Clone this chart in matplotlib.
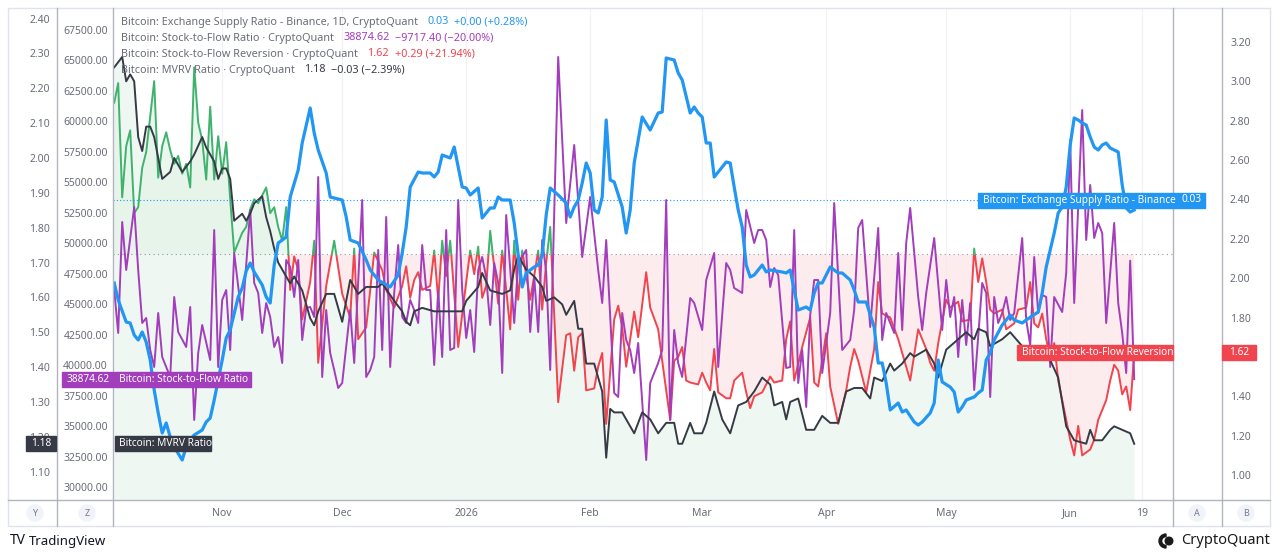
import datetime as dt

import matplotlib
matplotlib.use("Agg")
import matplotlib.pyplot as plt
import matplotlib.dates as mdates
import matplotlib.transforms as mtransforms
from matplotlib.patches import Rectangle, Circle, Wedge
from matplotlib.ticker import FormatStrFormatter
import numpy as np

W, H = 1280, 558
START = dt.date(2025, 10, 5)

# (days after START, value)
supply_ratio = [
    (0, 0.02834), (1, 0.02800), (3, 0.02756), (4, 0.02754), (5, 0.02730), (6, 0.02720), (7, 0.02736),
    (8, 0.02716), (9, 0.02680), (10, 0.02620), (11, 0.02574), (12, 0.02534), (13, 0.02554), (14, 0.02526),
    (15, 0.02506), (17, 0.02480), (18, 0.02506), (19, 0.02520), (20, 0.02530), (22, 0.02540), (23, 0.02556),
    (24, 0.02564), (25, 0.02600), (27, 0.02680), (28, 0.02724), (29, 0.02740), (31, 0.02806), (32, 0.02824),
    (33, 0.02858), (34, 0.02874), (35, 0.02856), (37, 0.02830), (38, 0.02806), (39, 0.02794), (40, 0.02870),
    (41, 0.02914), (43, 0.02926), (44, 0.03006), (46, 0.03060), (47, 0.03114), (49, 0.03184), (50, 0.03134),
    (51, 0.03100), (53, 0.03054), (54, 0.03006), (57, 0.03000), (58, 0.02966), (59, 0.02920), (61, 0.02914),
    (63, 0.02880), (64, 0.02860), (66, 0.02840), (69, 0.02826), (71, 0.02850), (72, 0.02894), (73, 0.02946),
    (74, 0.03026), (76, 0.03056), (77, 0.03054), (79, 0.03054), (80, 0.03046), (81, 0.03056), (82, 0.03090),
    (84, 0.03084), (85, 0.03106), (87, 0.03026), (88, 0.03024), (89, 0.03010), (91, 0.03024), (92, 0.02964),
    (94, 0.02984), (95, 0.02984), (96, 0.03006), (97, 0.03000), (99, 0.03000), (100, 0.02954), (101, 0.02890),
    (102, 0.02826), (103, 0.02854), (105, 0.02866), (106, 0.02870), (107, 0.02890), (108, 0.02970),
    (109, 0.03024), (111, 0.03010), (113, 0.02994), (114, 0.02966), (115, 0.02986), (116, 0.03000),
    (117, 0.03034), (118, 0.03074), (119, 0.03054), (120, 0.02980), (121, 0.02974), (122, 0.03006),
    (123, 0.03160), (124, 0.03040), (125, 0.03036), (127, 0.02986), (128, 0.02934), (129, 0.02980),
    (130, 0.03074), (132, 0.03166), (134, 0.03140), (136, 0.03174), (137, 0.03176), (138, 0.03284),
    (140, 0.03280), (141, 0.03254), (142, 0.03240), (144, 0.03174), (145, 0.03186), (146, 0.03174),
    (147, 0.03166), (148, 0.03114), (149, 0.03114), (150, 0.03046), (151, 0.03056), (153, 0.03076),
    (154, 0.03074), (155, 0.03026), (156, 0.02980), (157, 0.02946), (158, 0.02870), (159, 0.02846),
    (160, 0.02850), (162, 0.02870), (163, 0.02856), (164, 0.02860), (167, 0.02856), (168, 0.02854),
    (169, 0.02860), (170, 0.02820), (171, 0.02780), (173, 0.02786), (174, 0.02780), (175, 0.02814),
    (176, 0.02834), (177, 0.02834), (178, 0.02850), (179, 0.02866), (181, 0.02854), (182, 0.02854),
    (184, 0.02840), (185, 0.02820), (186, 0.02796), (188, 0.02796), (190, 0.02746), (191, 0.02674),
    (192, 0.02674), (193, 0.02634), (194, 0.02580), (196, 0.02594), (197, 0.02576), (198, 0.02580),
    (200, 0.02556), (201, 0.02550), (202, 0.02556), (204, 0.02574), (205, 0.02594), (206, 0.02680),
    (207, 0.02636), (209, 0.02626), (210, 0.02616), (211, 0.02576), (212, 0.02586), (213, 0.02600),
    (215, 0.02606), (216, 0.02614), (217, 0.02620), (218, 0.02680), (219, 0.02694), (220, 0.02720),
    (222, 0.02750), (224, 0.02770), (225, 0.02760), (227, 0.02754), (228, 0.02760), (231, 0.02776),
    (232, 0.02814), (233, 0.02866), (235, 0.02934), (236, 0.02974), (237, 0.02986), (238, 0.03026),
    (239, 0.03110), (240, 0.03164), (241, 0.03160), (242, 0.03154), (243, 0.03150), (244, 0.03126),
    (245, 0.03106), (246, 0.03100), (247, 0.03110), (248, 0.03114), (249, 0.03104), (250, 0.03100),
    (251, 0.03096), (252, 0.03030), (253, 0.02984), (254, 0.02976), (255, 0.02980),
]

s2f_ratio = [
    (0, 46188), (1, 42663), (2, 51762), (3, 47827), (5, 52991), (6, 47827), (7, 43483), (8, 43892),
    (9, 41270), (10, 39876), (11, 44302), (12, 40696), (14, 39056), (15, 45614), (16, 42745), (18, 41516),
    (19, 44794), (20, 35532), (21, 41024), (22, 43319), (24, 40450), (25, 51106), (26, 39876), (27, 45368),
    (28, 46188), (29, 41270), (30, 49221), (32, 43729), (34, 52745), (35, 46761), (36, 45942), (37, 42663),
    (38, 45122), (39, 43974), (40, 41516), (41, 42335), (42, 40204), (43, 48647), (44, 48073), (45, 45614),
    (46, 48647), (47, 42089), (48, 44712), (49, 44794), (50, 43974), (51, 55450), (52, 39056), (53, 44548),
    (54, 41024), (55, 39630), (56, 38155), (57, 38565), (59, 44548), (60, 40204), (62, 53565), (63, 39056),
    (64, 39630), (65, 40696), (66, 49466), (67, 41270), (68, 52172), (69, 39876), (70, 45942), (71, 49876),
    (72, 43974), (73, 43483), (74, 45368), (75, 44548), (76, 43483), (77, 49876), (78, 46188), (79, 46188),
    (80, 40040), (81, 46188), (82, 40696), (83, 51106), (84, 41270), (85, 41434), (86, 53565), (87, 46188),
    (88, 42253), (89, 44548), (90, 41106), (91, 47827), (92, 48893), (93, 47253), (94, 43319), (95, 48401),
    (96, 46761), (97, 39384), (98, 52335), (100, 43483), (101, 48401), (103, 49466), (104, 42745),
    (105, 47253), (106, 42745), (107, 50286), (108, 47663), (109, 39630), (111, 65287), (113, 51680),
    (115, 58073), (117, 48893), (119, 53811), (121, 47827), (122, 45122), (123, 50286), (124, 43974),
    (125, 37745), (126, 37417), (127, 44302), (128, 42089), (129, 41270), (130, 39384), (131, 41843),
    (133, 32253), (134, 38565), (136, 40204), (137, 41270), (138, 53565), (139, 35532), (140, 42909),
    (141, 40204), (142, 39056), (144, 45532), (145, 45122), (147, 42909), (148, 47007), (150, 49221),
    (151, 39876), (153, 48401), (154, 47827), (155, 46352), (157, 45942), (158, 52745), (160, 50040),
    (161, 51106), (162, 51106), (163, 50286), (164, 46434), (165, 47991), (166, 47417), (168, 39794),
    (169, 39876), (170, 51106), (171, 38565), (172, 41270), (173, 36597), (174, 44138), (175, 47007),
    (176, 47007), (177, 39384), (179, 44302), (180, 53319), (182, 41270), (184, 42089), (185, 44548),
    (186, 51270), (187, 51926), (189, 43155), (191, 51270), (192, 42089), (193, 44302), (195, 42663),
    (196, 49221), (197, 42909), (198, 50040), (199, 52909), (201, 45614), (202, 42909), (203, 45942),
    (205, 50450), (207, 42909), (208, 47007), (209, 43974), (210, 45614), (211, 40696), (212, 45368),
    (213, 41679), (214, 45122), (215, 37991), (217, 46761), (218, 45942), (219, 37417), (220, 45614),
    (221, 43483), (222, 44302), (223, 45614), (224, 43729), (225, 44302), (227, 50450), (228, 43729),
    (229, 41679), (230, 48893), (231, 44302), (232, 45778), (233, 45614), (234, 39876), (235, 45614),
    (237, 44384), (238, 47581), (239, 58483), (240, 45122), (242, 60942), (243, 50286), (244, 54795),
    (245, 50450), (246, 51680), (247, 50860), (248, 43483), (250, 51680), (251, 45122), (252, 42663),
    (253, 39384), (254, 48592.02), (255, 38874.62),
]

s2f_reversion = [
    (0, 2.89), (1, 2.99), (2, 2.41), (3, 2.67), (4, 2.75), (5, 2.33), (6, 2.36), (7, 2.56), (8, 2.64),
    (10, 3.00), (11, 2.51), (12, 2.67), (13, 2.74), (14, 2.65), (15, 2.58), (16, 2.62), (17, 2.53),
    (18, 2.58), (19, 2.46), (20, 3.07), (21, 2.79), (22, 2.70), (23, 2.50), (24, 2.87), (25, 2.50),
    (26, 2.72), (27, 2.53), (28, 2.69), (29, 2.40), (30, 2.13), (32, 2.23), (33, 2.26), (34, 2.35),
    (35, 2.40), (36, 2.38), (38, 2.46), (39, 2.33), (40, 2.36), (41, 2.26), (42, 2.19), (43, 2.36),
    (44, 1.94), (45, 2.11), (46, 2.04), (47, 1.79), (49, 1.98), (50, 2.19), (51, 1.57), (53, 1.96),
    (55, 2.19), (57, 1.92), (59, 1.80), (60, 2.15), (61, 1.69), (63, 1.75), (65, 2.13), (67, 2.04),
    (68, 1.94), (70, 1.85), (72, 1.96), (73, 2.06), (74, 1.90), (75, 1.99), (76, 2.03), (77, 1.94),
    (79, 1.96), (80, 2.14), (81, 1.89), (82, 2.19), (83, 2.01), (84, 2.19), (86, 1.65), (88, 1.98),
    (89, 2.14), (90, 2.02), (91, 2.16), (92, 1.90), (93, 1.96), (94, 2.24), (96, 1.87), (97, 2.14),
    (99, 1.74), (100, 2.19), (101, 1.89), (102, 2.14), (104, 1.89), (105, 2.01), (106, 2.14), (107, 1.84),
    (108, 2.08), (109, 2.26), (111, 1.37), (113, 1.71), (114, 1.72), (115, 1.53), (116, 1.70), (117, 1.72),
    (118, 1.43), (120, 1.44), (121, 1.55), (122, 1.62), (123, 1.26), (125, 1.79), (126, 1.86), (127, 1.75),
    (128, 1.55), (130, 1.83), (131, 1.70), (133, 2.03), (134, 1.85), (136, 1.74), (137, 1.58), (139, 1.28),
    (140, 1.58), (141, 1.60), (142, 1.65), (143, 1.48), (144, 1.47), (146, 1.46), (147, 1.52), (148, 1.47),
    (149, 1.43), (150, 1.64), (151, 1.42), (153, 1.39), (154, 1.39), (155, 1.48), (157, 1.52), (158, 1.42),
    (159, 1.34), (160, 1.40), (162, 1.42), (164, 1.50), (165, 1.47), (167, 1.48), (168, 1.69), (169, 1.78),
    (170, 1.48), (172, 1.65), (174, 1.80), (175, 1.47), (176, 1.45), (178, 1.72), (179, 1.45), (181, 1.26),
    (183, 1.43), (184, 1.55), (185, 1.64), (186, 1.58), (188, 1.42), (190, 1.64), (191, 1.98), (192, 1.82),
    (194, 1.80), (196, 1.69), (197, 1.62), (199, 1.48), (201, 1.74), (203, 1.64), (204, 1.57), (205, 1.53),
    (206, 1.67), (208, 1.89), (209, 1.85), (211, 1.88), (212, 1.78), (214, 1.79), (215, 2.15), (216, 1.98),
    (217, 2.10), (218, 1.98), (219, 1.84), (220, 1.82), (222, 1.84), (223, 1.74), (225, 1.77), (226, 1.84),
    (228, 1.85), (229, 1.98), (230, 1.77), (231, 1.75), (232, 1.82), (233, 1.69), (234, 1.60), (235, 1.67),
    (236, 1.48), (237, 1.38), (239, 1.18), (240, 1.10), (241, 1.25), (242, 1.10), (244, 1.13), (245, 1.18),
    (246, 1.28), (248, 1.38), (249, 1.48), (250, 1.56), (251, 1.53), (252, 1.41), (253, 1.45), (254, 1.33),
    (255, 1.62),
]

mvrv_ratio = [
    (0, 2.26), (2, 2.29), (3, 2.22), (4, 2.24), (5, 2.22), (6, 2.06), (7, 2.02), (8, 2.09), (9, 2.09),
    (10, 2.06), (11, 2.00), (12, 1.94), (14, 1.96), (15, 2.00), (17, 1.96), (19, 1.99), (20, 2.01),
    (22, 2.06), (23, 2.03), (25, 1.99), (26, 1.94), (27, 1.97), (28, 1.97), (29, 1.94), (30, 1.82),
    (32, 1.84), (33, 1.82), (34, 1.84), (35, 1.87), (37, 1.89), (38, 1.83), (39, 1.79), (40, 1.74),
    (41, 1.70), (42, 1.68), (44, 1.64), (45, 1.66), (47, 1.62), (49, 1.54), (50, 1.52), (51, 1.56),
    (53, 1.61), (55, 1.61), (57, 1.53), (59, 1.65), (61, 1.61), (63, 1.63), (66, 1.63), (67, 1.64),
    (70, 1.59), (72, 1.56), (73, 1.53), (74, 1.52), (75, 1.56), (77, 1.57), (80, 1.56), (82, 1.56),
    (84, 1.56), (87, 1.56), (88, 1.59), (91, 1.63), (92, 1.67), (94, 1.62), (97, 1.61), (99, 1.62),
    (100, 1.68), (101, 1.72), (103, 1.68), (105, 1.66), (107, 1.63), (108, 1.59), (110, 1.60), (112, 1.58),
    (113, 1.55), (115, 1.59), (116, 1.51), (117, 1.51), (118, 1.41), (120, 1.41), (122, 1.33), (123, 1.14),
    (124, 1.28), (125, 1.27), (127, 1.27), (128, 1.25), (130, 1.21), (132, 1.27), (134, 1.25), (136, 1.21),
    (138, 1.24), (140, 1.24), (141, 1.18), (142, 1.18), (144, 1.24), (145, 1.21), (147, 1.21), (148, 1.24),
    (150, 1.33), (152, 1.25), (154, 1.21), (156, 1.29), (158, 1.30), (160, 1.33), (162, 1.37), (164, 1.35),
    (165, 1.29), (167, 1.30), (168, 1.25), (169, 1.30), (171, 1.31), (173, 1.22), (175, 1.22), (177, 1.26),
    (179, 1.24), (181, 1.24), (183, 1.33), (185, 1.34), (187, 1.34), (189, 1.31), (190, 1.37), (192, 1.36),
    (194, 1.41), (195, 1.39), (197, 1.41), (199, 1.44), (200, 1.43), (203, 1.45), (205, 1.41), (206, 1.37),
    (208, 1.45), (209, 1.46), (211, 1.48), (213, 1.50), (215, 1.48), (216, 1.51), (218, 1.50), (219, 1.46),
    (222, 1.48), (224, 1.50), (227, 1.46), (229, 1.43), (232, 1.45), (234, 1.42), (236, 1.37), (238, 1.23),
    (240, 1.19), (243, 1.18), (244, 1.22), (245, 1.19), (247, 1.19), (249, 1.22), (250, 1.23), (252, 1.22),
    (254, 1.21), (255, 1.18),
]

month_ticks = ["2025-11-01", "2025-12-01", "2026-01-01", "2026-02-01", "2026-03-01",
               "2026-04-01", "2026-05-01", "2026-06-01", "2026-06-19"]
month_labels = ["Nov", "Dec", "2026", "Feb", "Mar", "Apr", "May", "Jun", "19"]

mvrv_ticks = [1.10, 1.20, 1.30, 1.40, 1.50, 1.60, 1.70, 1.80, 1.90, 2.00, 2.10, 2.20, 2.30, 2.40]
s2f_ticks = list(range(30000, 67501, 2500))
rev_ticks = [1.00, 1.20, 1.40, 1.80, 2.00, 2.20, 2.40, 2.60, 2.80, 3.00, 3.20]

legend_rows = [
    ("Bitcoin: Exchange Supply Ratio - Binance, 1D, CryptoQuant", "0.03", "+0.00 (+0.28%)"),
    ("Bitcoin: Stock-to-Flow Ratio · CryptoQuant", "38874.62", "−9717.40 (−20.00%)"),
    ("Bitcoin: Stock-to-Flow Reversion · CryptoQuant", "1.62", "+0.29 (+21.94%)"),
    ("Bitcoin: MVRV Ratio · CryptoQuant", "1.18", "−0.03 (−2.39%)"),
]

BLUE = "#2196f3"
PURPLE = "#a23dbb"
RED = "#f0444f"
GREEN = "#3fb36e"
BLACK = "#363a45"
TXT = "#6a6d78"
SEP = "#b2b5be"

MVRV_LIM = (1.0186, 2.4275)
S2F_LIM = (28974, 69221)
REV_LIM = (0.8736, 3.366)
SR_LIM = (0.0240, 0.03382)

plt.rcParams["font.family"] = ["Noto Sans", "DejaVu Sans"]
ID = mtransforms.IdentityTransform()


def unzip(pairs):
    days, vals = zip(*pairs)
    x = mdates.date2num([START + dt.timedelta(days=d) for d in days])
    return x, np.array(vals, dtype=float)


fig = plt.figure(figsize=(W / 100, H / 100), dpi=100)
fig.patch.set_facecolor("white")

L, R, T, B = 113, 1173, 9, 500
ax = fig.add_axes([L / W, 1 - B / H, (R - L) / W, (B - T) / H])
ax_fill = ax.twinx()
ax_rev = ax.twinx()
ax_s2f = ax.twinx()
ax_mvrv = ax.twinx()
ax_sr = ax.twinx()

x0 = mdates.date2num(START)
ax.set_xlim(x0 - 0.3, x0 + 264.7)
ax_fill.set_ylim(*MVRV_LIM)
ax_mvrv.set_ylim(*MVRV_LIM)
ax_s2f.set_ylim(*S2F_LIM)
ax_rev.set_ylim(*REV_LIM)
ax_sr.set_ylim(*SR_LIM)

for a in (ax, ax_fill, ax_rev, ax_s2f, ax_mvrv, ax_sr):
    for s in a.spines.values():
        s.set_visible(False)
    a.tick_params(length=0)
ax.set_yticks([])
ax_fill.set_yticks([])
ax_sr.set_yticks([])

# time axis
ax.set_xticks(mdates.date2num([dt.date.fromisoformat(d) for d in month_ticks]))
ax.set_xticklabels(month_labels)
ax.tick_params(axis="x", pad=6, labelsize=7.5, labelcolor=TXT)
ax.grid(axis="x", color="#f0f1f4", lw=0.8)

# MVRV area + line
xm, vm = unzip(mvrv_ratio)
ax_fill.fill_between(xm, vm, MVRV_LIM[0], color="#eef7f1", lw=0)

# stock-to-flow reversion as baseline series
xr, vr = unzip(s2f_reversion)
base = (REV_LIM[0] + REV_LIM[1]) / 2
ax_rev.fill_between(xr, vr, base, where=vr >= base, interpolate=True, color="#e3f3e8", alpha=0.7, lw=0)
ax_rev.fill_between(xr, vr, base, where=vr < base, interpolate=True, color="#fde4e6", alpha=0.7, lw=0)
ax_rev.axhline(base, color="#9598a1", ls=(0, (1, 3)), lw=0.8)
tr = mtransforms.blended_transform_factory(ax_rev.transAxes, ax_rev.transData)
up = Rectangle((0, base), 1, REV_LIM[1] - base, transform=tr)
dn = Rectangle((0, REV_LIM[0]), 1, base - REV_LIM[0], transform=tr)
g_line, = ax_rev.plot(xr, vr, color=GREEN, lw=1.4)
g_line.set_clip_path(up)
r_line, = ax_rev.plot(xr, vr, color=RED, lw=1.4)
r_line.set_clip_path(dn)

xs, vs = unzip(s2f_ratio)
ax_s2f.plot(xs, vs, color=PURPLE, lw=1.4)

ax_mvrv.plot(xm, vm, color=BLACK, lw=1.4)

xb, vb = unzip(supply_ratio)
ax_sr.axhline(0.03, color=BLUE, ls=(0, (1, 2)), lw=0.8)
ax_sr.plot(xb, vb, color=BLUE, lw=2.3, solid_joinstyle="round")

# price scales
ax_mvrv.yaxis.set_ticks_position("left")
ax_mvrv.spines["left"].set_position(("outward", 56 * 0.72))
ax_mvrv.set_yticks(mvrv_ticks)
ax_mvrv.yaxis.set_major_formatter(FormatStrFormatter("%.2f"))
ax_mvrv.tick_params(axis="y", pad=5, labelsize=7.5, labelcolor=TXT)

ax_s2f.yaxis.set_ticks_position("left")
ax_s2f.set_yticks(s2f_ticks)
ax_s2f.yaxis.set_major_formatter(FormatStrFormatter("%.2f"))
ax_s2f.tick_params(axis="y", pad=3.6, labelsize=7.5, labelcolor=TXT)

ax_rev.yaxis.set_ticks_position("right")
ax_rev.spines["right"].set_position(("outward", 49 * 0.72))
ax_rev.set_yticks(rev_ticks)
ax_rev.yaxis.set_major_formatter(FormatStrFormatter("%.2f"))
ax_rev.tick_params(axis="y", pad=5.8, labelsize=7.5, labelcolor=TXT)


def px_text(x, y_top, s, **kw):
    return fig.text(x, H - y_top, s, transform=ID, **kw)


def tag(axis, value, xa, xb, color):
    y = axis.transData.transform((0, value))[1]
    fig.add_artist(Rectangle((xa, y - 7.5), xb - xa, 15, transform=ID, color=color, zorder=5))
    return H - y


def tag_text(x, y_top, s, ha="left"):
    px_text(x, y_top, s, color="white", fontsize=7.3, ha=ha, va="center", zorder=6)


# frame and separators
fig.add_artist(Rectangle((8, H - 526), 1262, 518, transform=ID, fill=False, ec="#e0e3eb", lw=1, zorder=4))
for xv in (57, 113, 1173, 1222):
    fig.add_artist(plt.Line2D([xv, xv], [H - 526, H - 8], transform=ID, color=SEP, lw=1, zorder=4))
fig.add_artist(plt.Line2D([8, 1270], [H - 500, H - 500], transform=ID, color=SEP, lw=1, zorder=4))
for xv, letter in ((35, "Y"), (87, "Z"), (1197, "A"), (1246, "B")):
    fig.add_artist(Circle((xv, H - 513), 8, transform=ID, color="#f0f3fa", zorder=4))
    px_text(xv, 513, letter, color="#787b86", fontsize=6.5, ha="center", va="center", zorder=5)

# last value labels
yb = tag(ax_sr, 0.03, 978, 1205, BLUE)
tag_text(983, yb, "Bitcoin: Exchange Supply Ratio - Binance")
tag_text(1202, yb, "0.03", ha="right")

yr = tag(ax_rev, 1.62, 1017, 1173, RED)
tag_text(1022, yr, "Bitcoin: Stock-to-Flow Reversion")
tag(ax_rev, 1.62, 1222, 1256, RED)
tag_text(1239, yr, "1.62", ha="center")

yp = tag(ax_s2f, 38874.62, 62, 113, PURPLE)
tag_text(110, yp, "38874.62", ha="right")
tag(ax_s2f, 38874.62, 114, 251, PURPLE)
tag_text(119, yp, "Bitcoin: Stock-to-Flow Ratio")

yk = tag(ax_mvrv, 1.18, 26, 56, BLACK)
tag_text(51, yk, "1.18", ha="right")
tag(ax_mvrv, 1.18, 115, 211, BLACK)
tag_text(119, yk, "Bitcoin: MVRV Ratio")

# legend
renderer = fig.canvas.get_renderer()
value_colors = [BLUE, PURPLE, RED, BLACK]
for i, (name, val, chg) in enumerate(legend_rows):
    y = 22 + 16 * i
    x = 121
    for s, c, gap in ((name, TXT, 9), (val, value_colors[i], 6), (chg, value_colors[i], 0)):
        t = px_text(x, y, s, color=c, fontsize=7.8, va="center", zorder=6)
        x += t.get_window_extent(renderer).width + gap

# footer
px_text(10, 541, "TV", color="#131722", fontsize=10, fontweight="bold", va="center")
px_text(29, 541, "TradingView", color="#131722", fontsize=9.5, va="center")
fig.add_artist(Wedge((1166, H - 541), 7, 90, 270, width=2.6, transform=ID, color="#1a1a1a"))
fig.add_artist(Circle((1169, H - 541), 3.8, transform=ID, color="#1a1a1a"))
px_text(1270, 541, "CryptoQuant", color="#1a1a1a", fontsize=10.5, ha="right", va="center")

fig.savefig("out.png", dpi=100)
